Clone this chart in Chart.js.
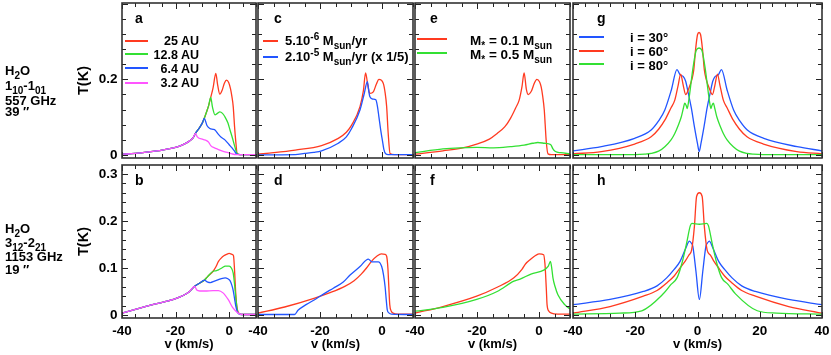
<!DOCTYPE html>
<html>
<head>
<meta charset="utf-8">
<script src="https://cdn.jsdelivr.net/npm/chart.js@4.4.1/dist/chart.umd.min.js"></script>
<style>
  body { margin: 0; background: #fff; }
  #fig { position: relative; width: 831px; height: 355px; overflow: hidden;
         font-family: "Liberation Sans", Arial, sans-serif; font-weight: bold; color: #000; }
  #fig canvas { position: absolute; left: 0; top: 0; }
  .t { position: absolute; white-space: nowrap; font-size: 13px; line-height: 13px; }
  .t sub, .t sup { font-size: 10px; line-height: 0; }
  .sw { position: absolute; height: 2px; }
</style>
</head>
<body>
<div id="fig">
  <canvas id="pa" width="831" height="355"></canvas>
  <canvas id="pb" width="831" height="355"></canvas>
  <canvas id="pc" width="831" height="355"></canvas>
  <canvas id="pd" width="831" height="355"></canvas>
  <canvas id="pe" width="831" height="355"></canvas>
  <canvas id="pf" width="831" height="355"></canvas>
  <canvas id="pg" width="831" height="355"></canvas>
  <canvas id="ph" width="831" height="355"></canvas>

  <!-- line labels on the left -->
  <div class="t" style="left:5px;top:63.6px">H<sub>2</sub>O</div>
  <div class="t" style="left:5px;top:79px">1<sub>10</sub>-1<sub>01</sub></div>
  <div class="t" style="left:5px;top:93.6px">557 GHz</div>
  <div class="t" style="left:5px;top:104.6px">39 ″</div>
  <div class="t" style="left:5px;top:221.6px">H<sub>2</sub>O</div>
  <div class="t" style="left:5px;top:236px">3<sub>12</sub>-2<sub>21</sub></div>
  <div class="t" style="left:5px;top:249.6px">1153 GHz</div>
  <div class="t" style="left:5px;top:262.6px">19 ″</div>

  <!-- panel letters -->
  <div class="t" style="left:135px;top:11.4px;font-size:14px;line-height:14px">a</div>
  <div class="t" style="left:274px;top:11.4px;font-size:14px;line-height:14px">c</div>
  <div class="t" style="left:430px;top:11.4px;font-size:14px;line-height:14px">e</div>
  <div class="t" style="left:597px;top:11.4px;font-size:14px;line-height:14px">g</div>
  <div class="t" style="left:135px;top:172.8px;font-size:14px;line-height:14px">b</div>
  <div class="t" style="left:274px;top:172.8px;font-size:14px;line-height:14px">d</div>
  <div class="t" style="left:430px;top:172.8px;font-size:14px;line-height:14px">f</div>
  <div class="t" style="left:597px;top:172.8px;font-size:14px;line-height:14px">h</div>

  <!-- legend a -->
  <div class="sw" style="left:125px;top:40px;width:23px;background:#ff3a20"></div>
  <div class="sw" style="left:125px;top:53px;width:23px;background:#33e033"></div>
  <div class="sw" style="left:125px;top:67px;width:23px;background:#2255ff"></div>
  <div class="sw" style="left:125px;top:82px;width:23px;background:#ff55ff"></div>
  <div class="t" style="left:140px;width:59px;text-align:right;top:34.9px;font-size:12.5px;line-height:12.5px">25 AU</div>
  <div class="t" style="left:140px;width:59px;text-align:right;top:48.9px;font-size:12.5px;line-height:12.5px">12.8 AU</div>
  <div class="t" style="left:140px;width:59px;text-align:right;top:62.9px;font-size:12.5px;line-height:12.5px">6.4 AU</div>
  <div class="t" style="left:140px;width:59px;text-align:right;top:77.2px;font-size:12.5px;line-height:12.5px">3.2 AU</div>

  <!-- legend c -->
  <div class="sw" style="left:263px;top:40px;width:15px;background:#ff3a20"></div>
  <div class="sw" style="left:263px;top:56px;width:15px;background:#2255ff"></div>
  <div class="t" style="left:285px;top:33.6px">5.10<sup>-6</sup> M<sub>sun</sub>/yr</div>
  <div class="t" style="left:285px;top:50.1px">2.10<sup>-5</sup> M<sub>sun</sub>/yr (x 1/5)</div>

  <!-- legend e -->
  <div class="sw" style="left:417px;top:38px;width:30px;background:#ff3a20"></div>
  <div class="sw" style="left:417px;top:52px;width:30px;background:#33e033"></div>
  <div class="t" style="left:470px;top:34.4px;font-size:13.5px;line-height:13.5px">M<sub>*</sub> = 0.1 M<sub>sun</sub></div>
  <div class="t" style="left:470px;top:47.9px;font-size:13.5px;line-height:13.5px">M<sub>*</sub> = 0.5 M<sub>sun</sub></div>

  <!-- legend g -->
  <div class="sw" style="left:579px;top:36px;width:25px;background:#2255ff"></div>
  <div class="sw" style="left:579px;top:50px;width:25px;background:#ff3a20"></div>
  <div class="sw" style="left:579px;top:63px;width:25px;background:#33e033"></div>
  <div class="t" style="left:630px;top:31.1px">i = 30°</div>
  <div class="t" style="left:630px;top:45.3px">i = 60°</div>
  <div class="t" style="left:630px;top:58.9px">i = 80°</div>
</div>

<script>
// ---- data: velocity (km/s) and T (K) ----
// panel a : H2O 557 GHz, different outer radii
const aV25 = [-40,-35,-30,-25,-20,-17,-15,-13.5,-12.6,-11,-10,-9.3,-8.5,-7.7,-6.9,-6,-5,-4.3,-3.5,-2.6,-1.8,-1,-0.2,0.5,1,1.5,2,2.4,3,4,10];
const aT25 = [0.002,0.004,0.008,0.013,0.02,0.028,0.036,0.045,0.057,0.073,0.085,0.097,0.113,0.13,0.152,0.178,0.216,0.185,0.161,0.172,0.19,0.198,0.192,0.175,0.155,0.128,0.075,0.04,0.003,0.001,0.001];
const aV13 = [-40,-35,-30,-25,-20,-17,-15,-13.5,-12.6,-11,-10,-9.3,-8.5,-7.7,-6.9,-6.2,-5.3,-4.4,-3.5,-2.5,-1.6,-0.5,0.3,1.2,2.1,3,4,10];
const aT13 = [0.002,0.004,0.008,0.013,0.02,0.028,0.036,0.045,0.057,0.073,0.085,0.097,0.113,0.13,0.152,0.125,0.106,0.11,0.114,0.11,0.101,0.085,0.066,0.045,0.022,0.003,0.001,0.001];
const aV6 = [-40,-35,-30,-25,-20,-17,-15,-13.5,-12.6,-11,-10,-9.3,-8.3,-7.2,-6,-5.3,-4.1,-3,-1.6,0,0.9,2,2.8,4,10];
const aT6 = [0.002,0.004,0.008,0.013,0.02,0.028,0.036,0.045,0.057,0.073,0.085,0.097,0.078,0.07,0.068,0.066,0.055,0.047,0.04,0.027,0.02,0.01,0.002,0.001,0.001];
const aV3 = [-40,-35,-30,-25,-20,-17,-15,-13.5,-12.6,-11.9,-9.8,-8.5,-7.7,-6.8,-5.5,-4.2,-2.5,-0.4,1,2.6,4,10];
const aT3 = [0.002,0.004,0.008,0.013,0.02,0.028,0.036,0.045,0.057,0.048,0.041,0.038,0.034,0.024,0.019,0.015,0.01,0.006,0.003,0.001,0.001,0.001];

// panel b : H2O 1153 GHz
const bV25 = [-40,-35,-30,-25,-20,-17,-15,-12.9,-11,-9.3,-8,-6,-5,-4,-3,-2,-1,0,1,1.6,2,2.4,2.8,3.6,5,10];
const bT25 = [0.004,0.012,0.02,0.027,0.035,0.042,0.049,0.061,0.068,0.074,0.082,0.093,0.102,0.114,0.121,0.126,0.129,0.131,0.129,0.126,0.095,0.05,0.02,0.004,0.001,0.001];
const bV13 = [-40,-35,-30,-25,-20,-17,-15,-12.9,-11,-9.3,-8,-6,-5,-4,-2.5,-1.5,0,0.8,1.5,2,2.5,3.2,4.5,10];
const bT13 = [0.004,0.012,0.02,0.027,0.035,0.042,0.049,0.061,0.068,0.074,0.082,0.093,0.094,0.096,0.101,0.104,0.104,0.1,0.089,0.065,0.035,0.006,0.001,0.001];
const bV6 = [-40,-35,-30,-25,-20,-17,-15,-12.9,-11,-9.3,-8,-7,-5.5,-4,-2.5,-1.5,-0.5,0.3,1,1.5,2,2.5,3.3,4.5,10];
const bT6 = [0.004,0.012,0.02,0.027,0.035,0.042,0.049,0.061,0.068,0.074,0.07,0.069,0.072,0.075,0.078,0.079,0.077,0.073,0.063,0.052,0.035,0.018,0.004,0.001,0.001];
const bV3 = [-40,-35,-30,-25,-20,-17,-15,-12.9,-12.1,-11,-9,-6,-4,-2.3,-0.4,1.4,3.3,5,10];
const bT3 = [0.004,0.012,0.02,0.027,0.035,0.042,0.049,0.061,0.053,0.051,0.051,0.052,0.052,0.047,0.033,0.015,0.004,0.001,0.001];

// panels c, d : mass loss rate
const cVlo = [-40,-35,-28,-19.5,-14.1,-11.5,-9.8,-7.1,-6,-5.3,-4.5,-3.9,-2.8,-1.8,-1,0.4,1,1.5,2,2.6,4,10];
const cTlo = [0.002,0.006,0.013,0.025,0.044,0.06,0.079,0.128,0.17,0.217,0.18,0.163,0.167,0.188,0.2,0.19,0.165,0.128,0.057,0.004,0.001,0.001];
const cVhi = [-40,-28,-25,-22,-19.5,-14.1,-11.5,-9.8,-7.1,-5.8,-4.7,-4.2,-3.9,-3,-2,-1.5,-1,-0.4,0.1,0.6,1.2,2,10];
const cThi = [0.0005,0.001,0.004,0.007,0.011,0.031,0.048,0.07,0.119,0.16,0.194,0.165,0.154,0.148,0.146,0.13,0.101,0.065,0.04,0.015,0.003,0.001,0.001];
const dVlo = [-40,-31.4,-21.7,-17,-12,-9,-6.7,-5,-3.4,-1.5,-0.2,1,1.5,1.9,2.2,2.5,3,3.6,5,10];
const dTlo = [0.004,0.017,0.036,0.047,0.061,0.073,0.087,0.1,0.114,0.126,0.13,0.129,0.125,0.1,0.06,0.022,0.008,0.004,0.002,0.002];
const dVhi = [-40,-28.2,-27.1,-24.5,-21.1,-18.5,-15.7,-12.5,-10.3,-7.1,-4.4,-3.3,-1.2,-0.1,0.5,1,1.4,1.7,2.3,3,10];
const dThi = [0.001,0.001,0.01,0.022,0.035,0.046,0.057,0.07,0.085,0.103,0.119,0.113,0.113,0.103,0.085,0.06,0.03,0.011,0.004,0.002,0.001];

// panels e, f : stellar mass
const eVlo = [-40,-31,-25,-20.1,-16,-13.5,-11,-9.2,-7.5,-6.4,-5.5,-4.8,-4.1,-3.5,-2.4,-1.5,-0.7,0.2,0.7,1.2,1.7,2,2.3,2.9,4,10];
const eTlo = [0.002,0.011,0.018,0.029,0.042,0.057,0.075,0.097,0.125,0.145,0.18,0.217,0.175,0.16,0.17,0.19,0.2,0.193,0.18,0.155,0.119,0.08,0.04,0.003,0.001,0.001];
const eVhi = [-40,-31,-25.6,-20.1,-14.7,-9.2,-4.8,-2,-0.4,1.7,3.3,3.9,4.5,5.3,7,10];
const eThi = [0.006,0.016,0.019,0.02,0.019,0.022,0.026,0.031,0.033,0.031,0.029,0.026,0.016,0.009,0.006,0.003];
const fVlo = [-40,-31,-20.1,-13.5,-8.1,-5.5,-4.3,-2.6,-1,0.1,1.5,1.9,2.1,2.4,2.6,3.2,4,6,10];
const fTlo = [0.004,0.018,0.04,0.059,0.079,0.097,0.109,0.119,0.127,0.13,0.128,0.11,0.09,0.05,0.022,0.008,0.004,0.002,0.002];
const fVhi = [-40,-31,-20.1,-13.5,-8.1,-5.9,-2.6,1.7,3,3.7,4.2,4.5,5.2,6.1,8.3,10];
const fThi = [0.008,0.016,0.033,0.05,0.072,0.077,0.087,0.096,0.104,0.114,0.095,0.079,0.06,0.043,0.022,0.013];

// panels g, h : inclination
const gV30 = [-40,-30.9,-20.2,-14.9,-12.5,-10.5,-8.4,-6.6,-5.6,-4.6,-3.8,-3,-2,-1,0,0.55,1.1,2.1,3.1,4.1,4.9,5.7,6.7,7.7,9.5,11.6,13.6,16,21.3,32,40];
const gT30 = [0.011,0.022,0.044,0.066,0.09,0.119,0.172,0.226,0.212,0.208,0.195,0.165,0.125,0.075,0.03,0.009,0.03,0.075,0.125,0.165,0.195,0.208,0.212,0.226,0.172,0.119,0.09,0.066,0.044,0.022,0.011];
const gV60 = [-40,-30.9,-20.2,-14.9,-12.5,-10.5,-8.5,-7.3,-6.2,-5.4,-4.6,-3.8,-2.8,-1.8,-1.2,-0.6,0,0.5,1,1.6,2.2,2.8,3.8,4.8,5.6,6.4,7.2,8.3,9.5,11.5,13.5,15.9,21.2,31.9,40];
const gT60 = [0.003,0.009,0.029,0.048,0.068,0.092,0.125,0.145,0.185,0.214,0.185,0.16,0.176,0.2,0.225,0.28,0.318,0.324,0.318,0.28,0.225,0.2,0.176,0.16,0.185,0.214,0.185,0.145,0.125,0.092,0.068,0.048,0.029,0.009,0.003];
const gV80 = [-40,-20,-17,-14.9,-12.5,-10.5,-8.5,-7.3,-6.2,-5.2,-4.5,-4.1,-3.6,-3.3,-2.8,-2.5,-1.4,-0.4,0.5,1.4,2.4,3.5,3.8,4.3,4.6,5.1,5.5,6.2,7.2,8.3,9.5,11.5,13.5,15.9,18,21,40];
const gT80 = [0.001,0.001,0.002,0.004,0.01,0.022,0.04,0.057,0.078,0.101,0.125,0.137,0.13,0.123,0.145,0.163,0.233,0.277,0.283,0.277,0.233,0.163,0.145,0.123,0.13,0.137,0.125,0.101,0.078,0.057,0.04,0.022,0.01,0.004,0.002,0.001,0.001];
const hV30 = [-40,-28.1,-17.4,-13,-9.9,-7.5,-5.6,-3.7,-2.6,-1.9,-1.5,-0.5,0.6,1.7,2.7,3.1,3.8,4.9,6.8,8.7,11.1,14.2,18.6,29.3,40];
const hT30 = [0.022,0.033,0.05,0.062,0.079,0.097,0.114,0.143,0.157,0.152,0.146,0.093,0.033,0.093,0.146,0.152,0.157,0.143,0.114,0.097,0.079,0.062,0.05,0.033,0.022];
const hV60 = [-40,-28.1,-17.4,-13,-9.9,-7.5,-5.6,-4,-2.8,-1.9,-1,-0.3,0.6,1.5,2.2,3.1,4.2,5.3,6.8,8.7,11.1,14.2,18.6,29.3,40];
const hT60 = [0.004,0.018,0.04,0.052,0.068,0.083,0.1,0.114,0.127,0.138,0.188,0.252,0.26,0.252,0.188,0.138,0.127,0.114,0.1,0.083,0.068,0.052,0.04,0.018,0.004];
const hV80 = [-40,-25,-17.9,-11,-8.5,-6.5,-5,-3.5,-2.3,-1.8,0.6,3,3.5,4.7,6.2,7.7,9.8,12.2,19.2,25.4,40];
const hT80 = [0.002,0.004,0.009,0.045,0.065,0.08,0.11,0.153,0.19,0.195,0.193,0.195,0.19,0.153,0.11,0.08,0.065,0.045,0.009,0.004,0.002];

// tick labels
const xLabNarrow = [-40, -20, 0];
const xLabWide = [-40, -20, 0, 20, 40];
const yLabTop = [0, 0.2];
const yLabBot = [0, 0.1, 0.2, 0.3];

const RED = '#ff3a20', GRN = '#33e033', BLU = '#2255ff', MAG = '#ff55ff';
const FONT = "'Liberation Sans', Arial, sans-serif";

// frame with inward ticks on all four sides
const frame = {
  id: 'frame',
  afterDatasetsDraw(chart, args, o) {
    const { ctx, chartArea: a, scales: { x, y } } = chart;
    ctx.save();
    ctx.strokeStyle = '#222';
    ctx.lineWidth = 1;
    ctx.beginPath();
    const nx = Math.round((x.max - o.x0) / o.xs);
    for (let i = 0; i <= nx; i++) {
      const v = o.x0 + i * o.xs;
      if (v < x.min || v > x.max) continue;
      const L = Math.abs(v / o.xm - Math.round(v / o.xm)) < 1e-6 ? 6 : 4;
      const p = Math.round(x.getPixelForValue(v)) + 0.5;
      ctx.moveTo(p, a.bottom); ctx.lineTo(p, a.bottom - L);
      ctx.moveTo(p, a.top); ctx.lineTo(p, a.top + L);
    }
    const ny = Math.floor(y.max / o.ys + 1e-6);
    for (let i = 0; i <= ny; i++) {
      const v = i * o.ys;
      const L = Math.abs(v / o.ym - Math.round(v / o.ym)) < 1e-6 ? 6 : 4;
      const p = Math.round(y.getPixelForValue(v)) + 0.5;
      ctx.moveTo(a.left, p); ctx.lineTo(a.left + L, p);
      ctx.moveTo(a.right, p); ctx.lineTo(a.right - L, p);
    }
    ctx.stroke();
    ctx.lineWidth = 1.6;
    ctx.strokeStyle = '#333';
    ctx.strokeRect(a.left, a.top, a.width, a.height);
    ctx.restore();
  }
};

function axis(dir, r, labels, title, size) {
  return {
    type: 'linear', min: r[0], max: r[1], display: !!labels,
    grid: { display: false, drawTicks: false },
    border: { display: false },
    ticks: {
      autoSkip: false, maxRotation: 0, minRotation: 0, color: '#000',
      padding: dir === 'x' ? 5.5 : 4.5,
      font: { family: FONT, size: 13.5, weight: 'bold' },
      callback: v => String(v)
    },
    title: {
      display: !!labels, text: title, color: '#000', padding: 0,
      font: { family: FONT, size: dir === 'x' ? 13 : 14.5, weight: 'bold' }
    },
    afterBuildTicks: s => { if (labels) s.ticks = labels.map(v => ({ value: v })); },
    afterFit: s => {
      if (dir === 'x') { s.height = size; s.paddingLeft = 0; s.paddingRight = 0; }
      else { s.width = size; s.paddingTop = 0; s.paddingBottom = 0; }
    }
  };
}

function build(id, box, xr, yr, tk, series, yLab, xLab) {
  const yw = yLab ? 47 : 0;
  const xh = xLab ? 34 : 0;
  return new Chart(document.getElementById(id), {
    type: 'line',
    data: {
      datasets: series.map(s => ({
        data: s[0].map((v, i) => ({ x: v, y: s[1][i] })),
        borderColor: s[2], borderWidth: 1.3, pointRadius: 0,
        cubicInterpolationMode: 'monotone', fill: false
      }))
    },
    options: {
      responsive: false, animation: false, events: [],
      layout: { padding: { left: box[0] - yw, top: box[1], right: 831 - box[2], bottom: 355 - box[3] - xh } },
      plugins: { legend: { display: false }, tooltip: { enabled: false }, frame: tk },
      scales: {
        x: axis('x', xr, xLab, 'v (km/s)', xh),
        y: axis('y', yr, yLab, 'T(K)', yw)
      }
    },
    plugins: [frame]
  });
}

const yTop = [-0.008, 0.402], yBot = [-0.0064, 0.319];
const xNarrow = [-40, 10], xWide = [-40, 40];
const tkTopN = { x0: -40, xs: 5, xm: 20, ys: 0.04, ym: 0.2 };
const tkBotN = { x0: -40, xs: 5, xm: 20, ys: 0.02, ym: 0.1 };
const tkTopW = { x0: -40, xs: 4, xm: 20, ys: 0.04, ym: 0.2 };
const tkBotW = { x0: -40, xs: 4, xm: 20, ys: 0.02, ym: 0.1 };

build('pa', [122, 3, 256, 158], xNarrow, yTop, tkTopN,
  [[aV3, aT3, MAG], [aV6, aT6, BLU], [aV13, aT13, GRN], [aV25, aT25, RED]], yLabTop, null);
build('pb', [122, 165, 256, 318], xNarrow, yBot, tkBotN,
  [[bV3, bT3, MAG], [bV6, bT6, BLU], [bV13, bT13, GRN], [bV25, bT25, RED]], yLabBot, xLabNarrow);
build('pc', [258, 3, 413, 158], xNarrow, yTop, tkTopN,
  [[cVhi, cThi, BLU], [cVlo, cTlo, RED]], null, null);
build('pd', [258, 165, 413, 318], xNarrow, yBot, tkBotN,
  [[dVhi, dThi, BLU], [dVlo, dTlo, RED]], null, xLabNarrow);
build('pe', [415, 3, 570, 158], xNarrow, yTop, tkTopN,
  [[eVhi, eThi, GRN], [eVlo, eTlo, RED]], null, null);
build('pf', [415, 165, 570, 318], xNarrow, yBot, tkBotN,
  [[fVhi, fThi, GRN], [fVlo, fTlo, RED]], null, xLabNarrow);
build('pg', [573, 3, 822, 158], xWide, yTop, tkTopW,
  [[gV80, gT80, GRN], [gV60, gT60, RED], [gV30, gT30, BLU]], null, null);
build('ph', [573, 165, 822, 318], xWide, yBot, tkBotW,
  [[hV80, hT80, GRN], [hV60, hT60, RED], [hV30, hT30, BLU]], null, xLabWide);
</script>
</body>
</html>
